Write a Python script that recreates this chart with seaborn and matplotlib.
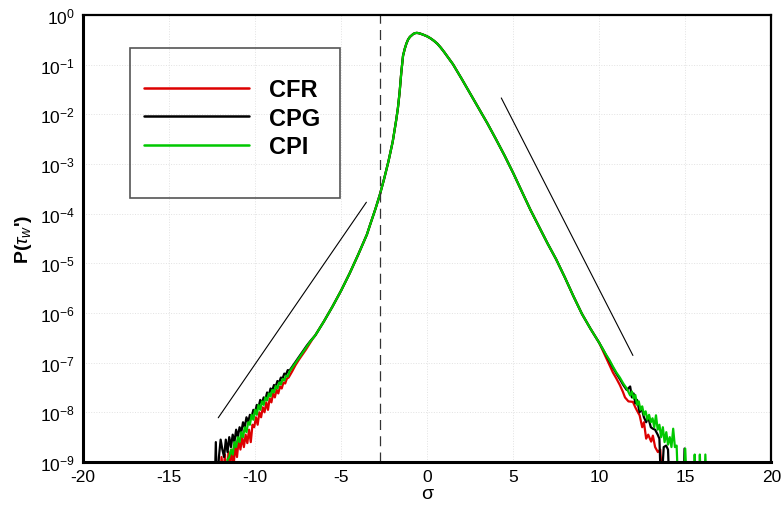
import numpy as np
import pandas as pd
import matplotlib
matplotlib.use("Agg")
import matplotlib.pyplot as plt
import seaborn as sns
from matplotlib.ticker import LogLocator, LogFormatterMathtext, MultipleLocator, NullFormatter
from matplotlib.lines import Line2D
from matplotlib.patches import Rectangle

# ---------------- data (log10 of PDF values) ----------------
cases = ["CFR", "CPG", "CPI"]
colors = ["#dd0000", "#000000", "#00c800"]

core_sigma = [-6.5, -6.0, -5.5, -5.0, -4.5, -4.0, -3.5, -3.33, -3.0, -2.75, -2.5, -2.25, -2.0,
              -1.8, -1.7, -1.6, -1.5, -1.4, -1.3, -1.2, -1.1, -1.0, -0.9, -0.8, -0.7, -0.6,
              -0.5, -0.4, -0.2, 0.0, 0.2, 0.4, 0.6, 0.8, 1.0, 1.5, 2.0, 2.5, 3.0, 3.5, 4.0,
              4.5, 5.0, 5.5, 6.0, 6.5, 7.0, 7.5, 8.0, 8.5, 9.0, 9.5, 10.0]
core_logp = [-6.45, -6.17, -5.87, -5.55, -5.2, -4.82, -4.42, -4.24, -3.9, -3.62, -3.3, -2.95, -2.55,
             -2.12, -1.88, -1.56, -1.15, -0.82, -0.68, -0.57, -0.49, -0.44, -0.41, -0.38, -0.365, -0.36,
             -0.365, -0.375, -0.40, -0.43, -0.47, -0.52, -0.58, -0.66, -0.75, -0.99, -1.28, -1.58, -1.88, -2.18, -2.50,
             -2.83, -3.18, -3.55, -3.92, -4.26, -4.60, -4.92, -5.28, -5.66, -6.02, -6.32, -6.60]

cfr_left_sigma = [-12.05, -11.95, -11.85, -11.75, -11.65, -11.55, -11.45, -11.35, -11.25, -11.15, -11.05,
                  -10.95, -10.85, -10.75, -10.65, -10.55, -10.45, -10.35, -10.25, -10.15, -10.05, -9.95,
                  -9.85, -9.75, -9.65, -9.55, -9.45, -9.35, -9.25, -9.15, -9.05, -8.95, -8.85, -8.75,
                  -8.65, -8.55, -8.45, -8.35, -8.25, -8.15, -8.05, -7.85, -7.65, -7.45, -7.25, -7.05,
                  -6.85, -6.65]
cfr_left_logp = [-9.6, -8.9, -9.3, -8.85, -9.6, -8.8, -9.05, -8.75, -9.1, -8.65, -8.9,
                 -8.55, -8.75, -8.5, -8.7, -8.45, -8.62, -8.35, -8.6, -8.25, -8.3, -8.1,
                 -8.25, -8.0, -8.1, -7.9, -8.0, -7.8, -7.95, -7.72, -7.8, -7.62, -7.7, -7.55,
                 -7.62, -7.48, -7.52, -7.4, -7.42, -7.32, -7.3, -7.18, -7.05, -6.94, -6.84, -6.74,
                 -6.63, -6.52]
cfr_right_sigma = [10.2, 10.4, 10.6, 10.8, 11.0, 11.2, 11.38, 11.5, 11.7, 11.96, 12.1, 12.25, 12.35,
                   12.5, 12.6, 12.73, 12.85, 13.02, 13.12, 13.25, 13.41, 13.55, 13.7]
cfr_right_logp = [-6.75, -6.9, -7.05, -7.2, -7.32, -7.45, -7.59, -7.7, -7.78, -7.79, -7.9, -8.0, -8.06,
                  -8.3, -8.2, -8.53, -8.45, -8.59, -8.47, -8.7, -8.8, -8.75, -9.6]

cpg_left_sigma = [-12.35, -12.28, -12.22, -12.1, -12.0, -11.9, -11.8, -11.7, -11.6, -11.5, -11.4, -11.3,
                  -11.2, -11.1, -11.0, -10.9, -10.8, -10.7, -10.6, -10.5, -10.4, -10.3, -10.2, -10.1,
                  -10.0, -9.9, -9.8, -9.7, -9.6, -9.5, -9.4, -9.3, -9.2, -9.1, -9.0, -8.9, -8.8, -8.7,
                  -8.6, -8.5, -8.4, -8.3, -8.2, -8.1, -8.0, -7.8, -7.6, -7.4, -7.2, -7.0, -6.8]
cpg_left_logp = [-9.6, -8.6, -9.6, -8.9, -8.55, -8.75, -8.9, -8.55, -8.8, -8.5, -8.7, -8.45,
                 -8.6, -8.35, -8.5, -8.3, -8.4, -8.2, -8.3, -8.1, -8.2, -8.05, -8.1, -7.95,
                 -8.0, -7.85, -7.9, -7.75, -7.82, -7.7, -7.74, -7.6, -7.66, -7.52, -7.56, -7.45, -7.48, -7.37,
                 -7.4, -7.3, -7.32, -7.22, -7.24, -7.15, -7.16, -7.06, -6.96, -6.86, -6.76, -6.66, -6.57]
cpg_right_sigma = [10.2, 10.4, 10.6, 10.8, 11.0, 11.2, 11.4, 11.6, 11.8, 11.9, 12.0, 12.1, 12.2, 12.35,
                   12.45, 12.6, 12.73, 12.85, 13.0, 13.12, 13.25, 13.4, 13.5, 13.6, 13.75, 13.89, 14.0,
                   14.09, 14.9, 14.96, 15.05]
cpg_right_logp = [-6.72, -6.85, -6.97, -7.1, -7.22, -7.33, -7.45, -7.55, -7.48, -7.7, -7.62, -7.82, -7.75, -8.0,
                  -7.9, -8.1, -8.2, -8.1, -8.3, -8.33, -8.35, -8.45, -8.53, -9.6, -8.7, -8.67, -8.75,
                  -9.6, -9.6, -8.73, -9.6]

cpi_left_sigma = [-11.7, -11.6, -11.5, -11.4, -11.3, -11.2, -11.1, -11.0, -10.9, -10.8, -10.7, -10.6,
                  -10.5, -10.4, -10.3, -10.2, -10.1, -10.0, -9.9, -9.8, -9.7, -9.6, -9.5, -9.4, -9.3,
                  -9.2, -9.1, -9.0, -8.9, -8.8, -8.7, -8.6, -8.5, -8.4, -8.3, -8.2, -8.1, -8.0, -7.8,
                  -7.6, -7.4, -7.2, -7.0, -6.8]
cpi_left_logp = [-9.6, -8.95, -8.9, -8.75, -8.85, -8.6, -8.7, -8.5, -8.6, -8.4, -8.5, -8.3,
                 -8.4, -8.2, -8.25, -8.05, -8.15, -7.95, -8.05, -7.85, -7.95, -7.78, -7.85, -7.7, -7.76,
                 -7.62, -7.68, -7.55, -7.6, -7.47, -7.52, -7.4, -7.44, -7.33, -7.36, -7.26, -7.28, -7.18, -7.08,
                 -6.98, -6.88, -6.78, -6.68, -6.58]
cpi_right_sigma = [10.2, 10.4, 10.6, 10.8, 11.0, 11.2, 11.4, 11.6, 11.8, 11.9, 12.0, 12.1, 12.2, 12.3,
                   12.4, 12.5, 12.6, 12.7, 12.8, 12.9, 13.0, 13.1, 13.2, 13.3, 13.4, 13.5, 13.6, 13.7,
                   13.8, 13.9, 14.0, 14.1, 14.2, 14.3, 14.4, 14.5, 14.6, 14.9, 15.0, 15.1, 15.5, 15.55,
                   15.62, 15.8, 15.85, 15.92, 16.1, 16.17, 16.25]
cpi_right_logp = [-6.72, -6.84, -6.95, -7.08, -7.2, -7.3, -7.42, -7.52, -7.66, -7.58, -7.72, -7.65, -7.85, -7.78,
                  -7.95, -7.88, -8.05, -7.98, -8.15, -8.05, -8.2, -8.12, -8.3, -8.06, -8.35, -8.25, -8.5, -8.3,
                  -8.6, -8.4, -8.65, -8.5, -8.7, -8.33, -8.7, -8.67, -9.6, -9.6, -8.73, -9.6, -9.6, -8.85,
                  -9.6, -9.6, -8.85, -9.6, -9.6, -8.85, -9.6]

# guide lines (slopes) and threshold
guide_left_sigma = [-12.14, -3.53]
guide_left_logp = [-8.11, -3.77]
guide_right_sigma = [4.31, 11.96]
guide_right_logp = [-1.67, -6.855]
threshold_sigma = -2.75

x_ticks = [-20, -15, -10, -5, 0, 5, 10, 15, 20]

# ---------------- build long table ----------------
parts = {
    "CFR": (cfr_left_sigma, cfr_left_logp, cfr_right_sigma, cfr_right_logp),
    "CPG": (cpg_left_sigma, cpg_left_logp, cpg_right_sigma, cpg_right_logp),
    "CPI": (cpi_left_sigma, cpi_left_logp, cpi_right_sigma, cpi_right_logp),
}
frames = []
for name in cases:
    ls, ll, rs, rl = parts[name]
    s = list(ls) + list(core_sigma) + list(rs)
    l = list(ll) + list(core_logp) + list(rl)
    frames.append(pd.DataFrame({"sigma": s, "P": 10.0 ** np.array(l), "case": name}))
df = pd.concat(frames, ignore_index=True)

# ---------------- style ----------------
sns.set_style("white")
plt.rcParams["font.family"] = ["Liberation Sans", "DejaVu Sans"]
plt.rcParams["mathtext.fontset"] = "custom"
plt.rcParams["mathtext.rm"] = "Liberation Sans"
plt.rcParams["mathtext.it"] = "Liberation Sans:italic"
plt.rcParams["mathtext.bf"] = "Liberation Sans:bold"
plt.rcParams["axes.unicode_minus"] = False
plt.rcParams["text.color"] = "black"
plt.rcParams["axes.labelcolor"] = "black"
plt.rcParams["xtick.color"] = "black"
plt.rcParams["ytick.color"] = "black"

fig = plt.figure(figsize=(7.83, 5.10), dpi=100)
ax = fig.add_axes([0.106, 0.0922, 0.879, 0.8764])

sns.lineplot(data=df, x="sigma", y="P", hue="case", hue_order=cases,
             palette=dict(zip(cases, colors)), sort=False, estimator=None,
             linewidth=1.6, legend=False, ax=ax)

ax.set_yscale("log")
ax.set_xlim(-20, 20)
ax.set_ylim(1e-9, 1)

# guide lines
ax.plot(guide_left_sigma, 10.0 ** np.array(guide_left_logp), color="black", lw=0.8)
ax.plot(guide_right_sigma, 10.0 ** np.array(guide_right_logp), color="black", lw=0.8)
ax.axvline(threshold_sigma, color="#333333", lw=0.9, ls=(0, (8, 5)))

# ticks
ax.set_xticks(x_ticks)
ax.set_xticklabels([str(t) for t in x_ticks])
ax.xaxis.set_minor_locator(MultipleLocator(1))
ax.yaxis.set_major_locator(LogLocator(base=10, numticks=20))
ax.yaxis.set_minor_locator(LogLocator(base=10, subs=np.arange(2, 10), numticks=20))
ax.yaxis.set_major_formatter(LogFormatterMathtext())
ax.yaxis.set_minor_formatter(NullFormatter())
ax.tick_params(axis="both", which="major", direction="in", length=9, width=1.5,
               labelsize=12.5, colors="black", top=False, right=False, pad=5)
ax.tick_params(axis="both", which="minor", direction="in", length=5, width=0.9,
               top=False, right=False)
ax.tick_params(axis="y", which="major", pad=6)

ax.grid(True, which="major", linestyle=":", color="#e2e2e2", linewidth=0.7)

for side, w in [("left", 2.2), ("bottom", 2.2), ("top", 1.6), ("right", 1.6)]:
    ax.spines[side].set_visible(True)
    ax.spines[side].set_linewidth(w)
    ax.spines[side].set_color("black")

ax.set_xlabel("σ", fontsize=14, labelpad=1, color="black")
ax.set_ylabel(r"P($\tau_w$')", fontsize=14, fontweight="bold", labelpad=4, color="black")

# legend box
ax.add_patch(Rectangle((0.068, 0.590), 0.305, 0.3355, transform=ax.transAxes,
                       fill=False, edgecolor="#555555", lw=1.2, zorder=5))
handles = [Line2D([], [], color=c, lw=1.8) for c in colors]
leg = ax.legend(handles, cases, loc="upper left", bbox_to_anchor=(0.0885, 0.858),
                frameon=False, handlelength=4.45, handletextpad=0.85, labelspacing=0.22,
                borderpad=0.0, borderaxespad=0.0, labelcolor="black",
                prop={"family": "Liberation Sans", "weight": "bold", "size": 17})

fig.savefig("out.png", dpi=100)
